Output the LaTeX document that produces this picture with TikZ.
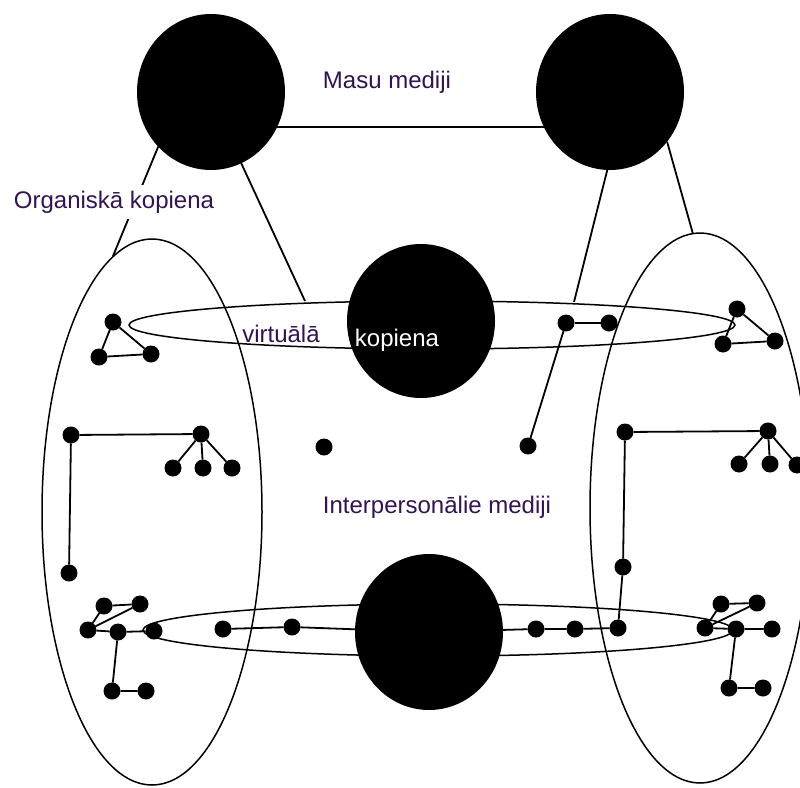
\documentclass[tikz,border=0pt]{standalone}
\usepackage{fontspec}
\setmainfont{Liberation Sans}
\usetikzlibrary{shapes.geometric}
\definecolor{labelc}{RGB}{50,20,80}
\begin{document}
\begin{tikzpicture}[x=1pt,y=-1pt,
  big/.style={ellipse,fill=black,draw=none,inner sep=0pt,outer sep=0pt,minimum width=148pt,minimum height=156pt},
  dot/.style={circle,fill=black,inner sep=0pt,outer sep=0pt,minimum size=17pt},
  link/.style={line width=1.8pt},
  ring/.style={line width=1.5pt},
  lbl/.style={text=labelc,font=\fontsize{24}{28}\selectfont,inner sep=0pt,anchor=base}]
\useasboundingbox (0,0) rectangle (800,787);
\clip (0,0) rectangle (800,787);
\fill[white] (0,0) rectangle (800,787);

% community ellipses
\draw[ring] (152,512) ellipse [x radius=110,y radius=273];
\draw[ring] (700,508) ellipse [x radius=110,y radius=275];
\draw[ring] (432,325) ellipse [x radius=303,y radius=24];
\draw[ring] (438,630) ellipse [x radius=295,y radius=26];

% big media circles
\node[big] (TL) at (211,92) {};
\node[big] (TR) at (610,92) {};
\node[big,minimum height=154pt] (MC) at (421,321) {};
\node[big] (BC) at (429,632) {};

% free ends
\coordinate (orgEnd) at (113,256);
\coordinate (virtTop) at (305,301);
\coordinate (trEnd) at (574,302);
\coordinate (rEllTop) at (693,234);

% small dots
\foreach \n/\x/\y in {A1/113/322,A2/99/357,A3/151/354,
  B1/71/435,B2/201/434,B3/173/468,B4/203/468,B5/232/468,
  C1/69/573,
  D1/104/606,D2/140/604,D3/88/630,D4/118/632,D5/154/631,D6/112/691,D7/146/691,
  D8/223/629,E1/292/627,
  M1/324/447,J/528/446,
  I1/566/323,I2/609/323,
  K1/737/309,K2/723/344,K3/775/341,
  H1/625/432,H2/768/431,H3/739/464,H4/770/464,H5/797/465,
  G1/623/567,
  F1/536/629,F2/575/629,F3/618/628,
  L1/721/604,L2/757/603,L3/705/628,L4/736/629,L5/772/629,L6/729/688,L7/763/688}
  \node[dot] (\n) at (\x,\y) {};

% connectors
\draw[link] (TL.-28) -- (TR.208);
\draw[link] (TL.226) -- (orgEnd);
\draw[link] (TL.-67) -- (virtTop);
\draw[link] (TR.-92) -- (trEnd);
\draw[link] (TR.-41) -- (rEllTop);

\draw[link] (A1) -- (A2) -- (A3) -- (A1);
\draw[link] (C1) -- (B1) -- (B2);
\draw[link] (B2) -- (B3);
\draw[link] (B2) -- (B4);
\draw[link] (B2) -- (B5);
\draw[link] (D1) -- (D2);
\draw[link] (D1) -- (D3);
\draw[link] (D3) -- (D2);
\draw[link] (D3) -- (D4) -- (D5);
\draw[link] (D4) -- (D6) -- (D7);
\draw[link] (D8) -- (E1) -- (BC);
\draw[link] (BC) -- (F1) -- (F2) -- (F3) -- (G1) -- (H1) -- (H2);
\draw[link] (H2) -- (H3);
\draw[link] (H2) -- (H4);
\draw[link] (H2) -- (H5);
\draw[link] (I1) -- (I2);
\draw[link] (I1) -- (J);
\draw[link] (K1) -- (K2) -- (K3) -- (K1);
\draw[link] (L1) -- (L2);
\draw[link] (L1) -- (L3);
\draw[link] (L3) -- (L2);
\draw[link] (L3) -- (L4) -- (L5);
\draw[link] (L4) -- (L6) -- (L7);

% labels
\node[lbl] (masu) at (387,88) {Masu mediji};
\node[lbl,fill=white,inner xsep=4pt,inner ysep=6pt] (org) at (114,208) {Organiskā kopiena};
\node[lbl] (virt) at (281,342) {virtuālā};
\node[lbl,text=white] (kop) at (397,346) {kopiena};
\node[lbl] (inter) at (437,513) {Interpersonālie mediji};
\end{tikzpicture}
\end{document}
